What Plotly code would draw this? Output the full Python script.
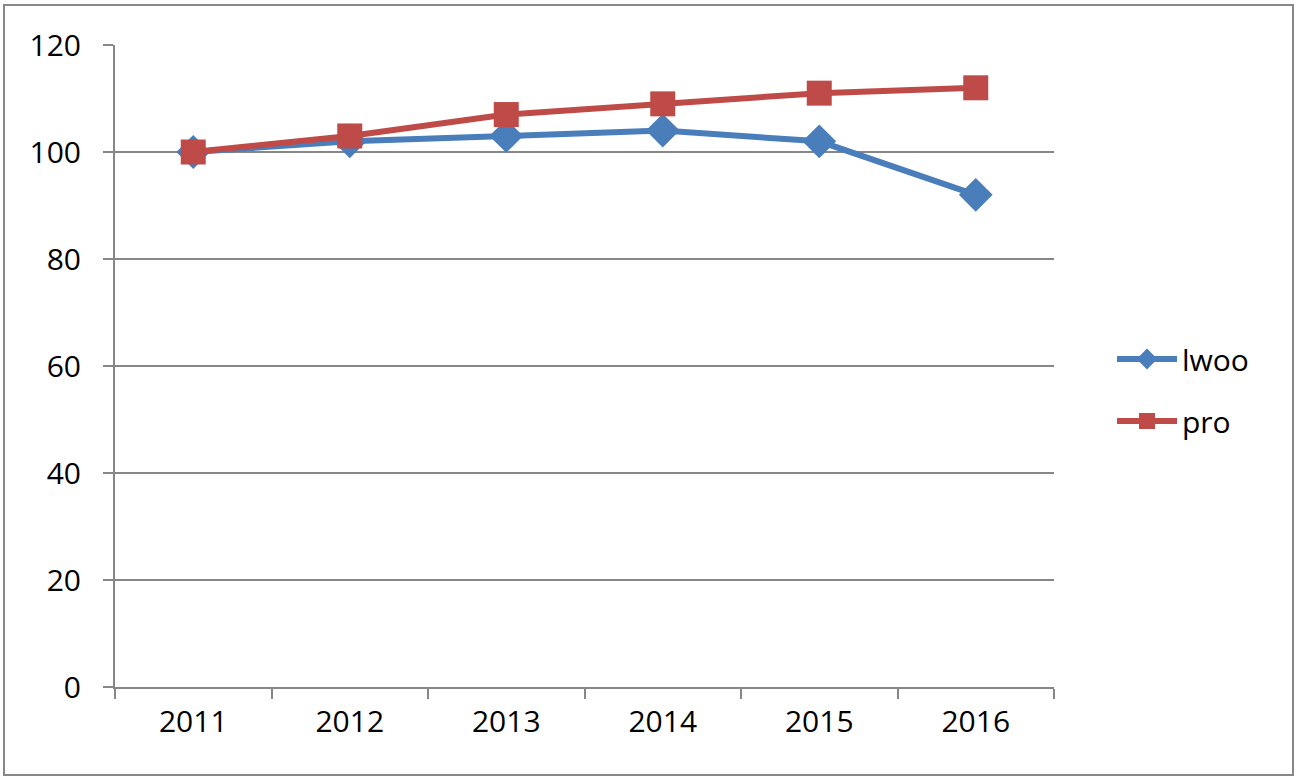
import plotly.graph_objects as go

years = ["2011", "2012", "2013", "2014", "2015", "2016"]
lwoo = [100, 102, 103, 104, 102, 92]
pro = [100, 103, 107, 109, 111, 112]
y_ticks = [0, 20, 40, 60, 80, 100, 120]

BLUE = "#4A7EBB"
RED = "#BE4B48"
GRID = "#878787"
FONT = "Open Sans"

fig = go.Figure()
fig.add_trace(go.Scatter(
    x=years, y=lwoo, name="lwoo", mode="lines+markers", legendgroup="a",
    line=dict(color=BLUE, width=6),
    marker=dict(symbol="diamond", size=26, color=BLUE, line=dict(width=0)),
))
fig.add_trace(go.Scatter(
    x=years, y=pro, name="pro", mode="lines+markers", legendgroup="b",
    line=dict(color=RED, width=6),
    marker=dict(symbol="square", size=25, color=RED, line=dict(width=0)),
))

L, R, T, B = 115, 1054, 45, 687
W, H = 1299, 779
pw, ph = R - L, B - T

fig.update_layout(
    width=W, height=H,
    margin=dict(l=L, r=W - R, t=T, b=H - B, pad=0),
    paper_bgcolor="white", plot_bgcolor="white",
    font=dict(family=FONT, size=30, color="black"),
    showlegend=True,
    legend=dict(
        x=(1112 - L) / pw, y=(687 - 390) / ph, xanchor="left", yanchor="middle",
        font=dict(size=30), tracegroupgap=20, bgcolor="rgba(0,0,0,0)",
        itemwidth=60,
    ),
    xaxis=dict(
        type="category", range=[-0.5, 5.5], showgrid=False,
        ticks="outside", tickson="boundaries", ticklen=10, tickwidth=2, tickcolor=GRID,
        showline=True, linecolor=GRID, linewidth=2,
        tickfont=dict(size=30), ticklabelstandoff=7, fixedrange=True,
    ),
    yaxis=dict(
        range=[0, 120], tickvals=y_ticks, showgrid=True, gridcolor=GRID, gridwidth=2,
        ticks="outside", ticklen=10, tickwidth=2, tickcolor=GRID,
        showline=True, linecolor=GRID, linewidth=2, zeroline=False,
        tickfont=dict(size=30), ticklabelstandoff=16,
    ),
    shapes=[dict(
        type="rect", xref="paper", yref="paper",
        x0=(4 - L) / pw, x1=(1293 - L) / pw,
        y0=(B - 775) / ph, y1=(B - 5) / ph,
        line=dict(color=GRID, width=2), fillcolor="rgba(0,0,0,0)", layer="below",
    )],
)

fig.write_html("out.html")
